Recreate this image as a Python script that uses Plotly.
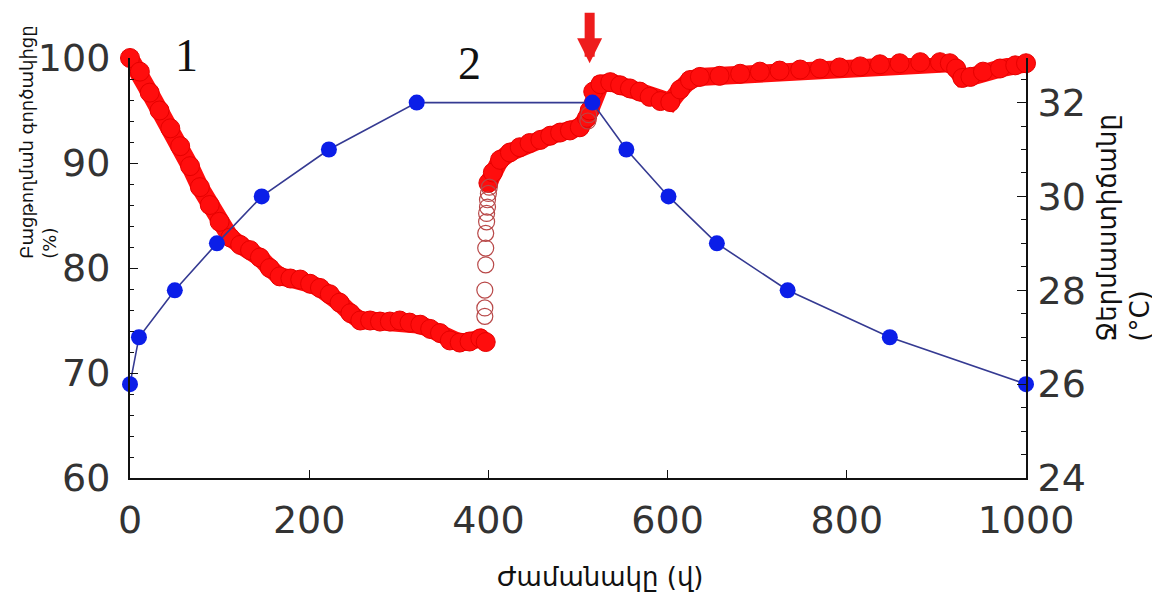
import plotly.graph_objects as go

# ---- data ----
# Red series: coefficient (%) vs time (s), left axis
red1_x = [0, 11, 22, 33, 45, 56, 67, 78, 89, 100, 112, 123, 134, 145, 156, 167, 179, 190,
          201, 212, 223, 234, 246, 257, 268, 279, 290, 301, 312, 324, 335, 346, 357, 368,
          379, 391, 397]
red1_y = [100.0, 98.7, 96.7, 95.0, 93.3, 91.6, 89.7, 87.7, 86.0, 84.4, 82.9, 82.2, 81.7,
          81.0, 80.0, 79.2, 79.0, 78.9, 78.5, 78.1, 77.5, 76.7, 75.7, 75.0, 75.0, 74.9,
          74.9, 75.0, 74.8, 74.6, 74.2, 73.8, 73.1, 72.9, 73.0, 73.3, 72.95]

open_x = [396, 396, 396, 397, 397, 397, 398, 398, 399, 399, 400, 401, 511, 512]
open_y = [75.4, 76.2, 77.9, 80.3, 81.9, 83.3, 84.4, 85.2, 85.8, 86.5, 87.1, 87.7, 94.0, 94.6]

red2_x = [400, 405, 413, 424, 435, 446, 458, 469, 480, 491, 502, 510, 513, 517, 525, 536,
          547, 558, 569, 580, 592, 603, 614, 625, 636, 658, 681, 703, 725, 748, 770, 792,
          815, 837, 859, 882, 904, 915, 922, 929, 938, 952, 971, 988, 1000]
red2_y = [88.1, 89.1, 90.3, 91.0, 91.5, 91.9, 92.2, 92.6, 92.9, 93.1, 93.4, 94.3, 95.0,
          96.8, 97.5, 97.7, 97.4, 97.1, 96.8, 96.3, 95.9, 95.8, 97.0, 97.9, 98.2, 98.3,
          98.5, 98.7, 98.8, 98.9, 99.0, 99.1, 99.2, 99.4, 99.5, 99.6, 99.6, 99.5, 99.0,
          98.1, 98.2, 98.7, 99.0, 99.3, 99.5]

# Blue series: temperature (°C) vs time (s), right axis
temp_x = [0, 10, 50, 97, 147, 222, 320, 516, 554, 601, 655, 734, 848, 1000]
temp_y = [26, 27, 28, 29, 30, 31, 32, 32, 31, 30, 29, 28, 27, 26]

x_ticks = [0, 200, 400, 600, 800, 1000]
left_ticks = [60, 70, 80, 90, 100]
right_ticks = [24, 26, 28, 30, 32]

label_1 = "1"
label_2 = "2"
x_title = "Ժամանակը (վ)"
left_title = "Բացթողման գործակիցը<br>(%)"
right_title = "Ջերմաստիճանը<br>(°C)"

RED = "#ff0d0d"
RED_EDGE = "#e60000"
BLUE = "#0b1ee8"
NAVY = "#353a92"
TICKFONT = dict(family="DejaVu Sans", size=38, color="#333333")
TITLEFONT = dict(family="DejaVu Sans", size=26, color="#111111")
LEFTTITLEFONT = dict(family="DejaVu Sans", size=18, color="#111111")

fig = go.Figure()

for xs, ys in [(red1_x, red1_y), (red2_x, red2_y)]:
    fig.add_trace(go.Scatter(
        x=xs, y=ys, mode="lines+markers", yaxis="y",
        line=dict(color=RED, width=18),
        marker=dict(symbol="circle", size=19, color=RED,
                    line=dict(color=RED_EDGE, width=1)),
        cliponaxis=False, showlegend=False, hoverinfo="skip"))

fig.add_trace(go.Scatter(
    x=open_x, y=open_y, mode="markers", yaxis="y",
    marker=dict(symbol="circle-open", size=16, color="#b84848",
                line=dict(width=1.2)),
    cliponaxis=False, showlegend=False, hoverinfo="skip"))

fig.add_trace(go.Scatter(
    x=temp_x, y=temp_y, mode="lines+markers", yaxis="y2",
    line=dict(color=NAVY, width=1.6),
    marker=dict(symbol="circle", size=16, color=BLUE),
    cliponaxis=False, showlegend=False, hoverinfo="skip"))

annotations = [
    dict(x=0.0636, y=1.007, xref="paper", yref="paper", text=label_1, showarrow=False,
         font=dict(family="Liberation Serif", size=46, color="#111111"),
         xanchor="center", yanchor="middle"),
    dict(x=0.379, y=0.988, xref="paper", yref="paper", text=label_2, showarrow=False,
         font=dict(family="Liberation Serif", size=46, color="#111111"),
         xanchor="center", yanchor="middle"),
    dict(x=513, y=99.5, xref="x", yref="y", text="", showarrow=True,
         ax=0, ay=-52, arrowhead=2, arrowsize=0.5, arrowwidth=10,
         arrowcolor="#ee1c1c"),
    dict(x=0.5246, y=-0.236, xref="paper", yref="paper", text=x_title,
         showarrow=False, font=TITLEFONT, xanchor="center", yanchor="middle"),
    dict(x=-0.103, y=0.80, xref="paper", yref="paper", text=left_title,
         showarrow=False, font=LEFTTITLEFONT, textangle=-90, align="left",
         xanchor="center", yanchor="middle"),
    dict(x=1.109, y=0.595, xref="paper", yref="paper", text=right_title,
         showarrow=False, font=TITLEFONT, textangle=-90, align="left",
         xanchor="center", yanchor="middle"),
]

# the page body adds an 8px offset, so the figure is 8px smaller and margins compensate
fig.update_layout(
    width=1152, height=584,
    margin=dict(l=122, r=134, t=50, b=114),
    paper_bgcolor="white", plot_bgcolor="white",
    showlegend=False,
    annotations=annotations,
    xaxis=dict(range=[0, 1000], tickvals=x_ticks, showgrid=False, zeroline=False,
               showline=True, linecolor="#111111", linewidth=2,
               ticks="inside", ticklen=8, tickcolor="#111111",
               tickfont=TICKFONT, ticklabelstandoff=7),
    yaxis=dict(range=[60, 100], tickvals=left_ticks, showgrid=False, zeroline=False,
               showline=True, linecolor="#111111", linewidth=2,
               ticks="inside", ticklen=8, tickcolor="#111111",
               minor=dict(dtick=2, ticks="inside", ticklen=4, tickcolor="#111111"),
               tickfont=TICKFONT, ticklabelstandoff=10),
    yaxis2=dict(range=[24, 32.95], tickvals=right_ticks, overlaying="y", side="right",
                showgrid=False, zeroline=False,
                showline=True, linecolor="#111111", linewidth=2,
                ticks="inside", ticklen=9, tickcolor="#111111",
                minor=dict(dtick=0.5, ticks="inside", ticklen=5, tickcolor="#111111"),
                tickfont=TICKFONT, ticklabelstandoff=2),
)

fig.write_html("out.html")
